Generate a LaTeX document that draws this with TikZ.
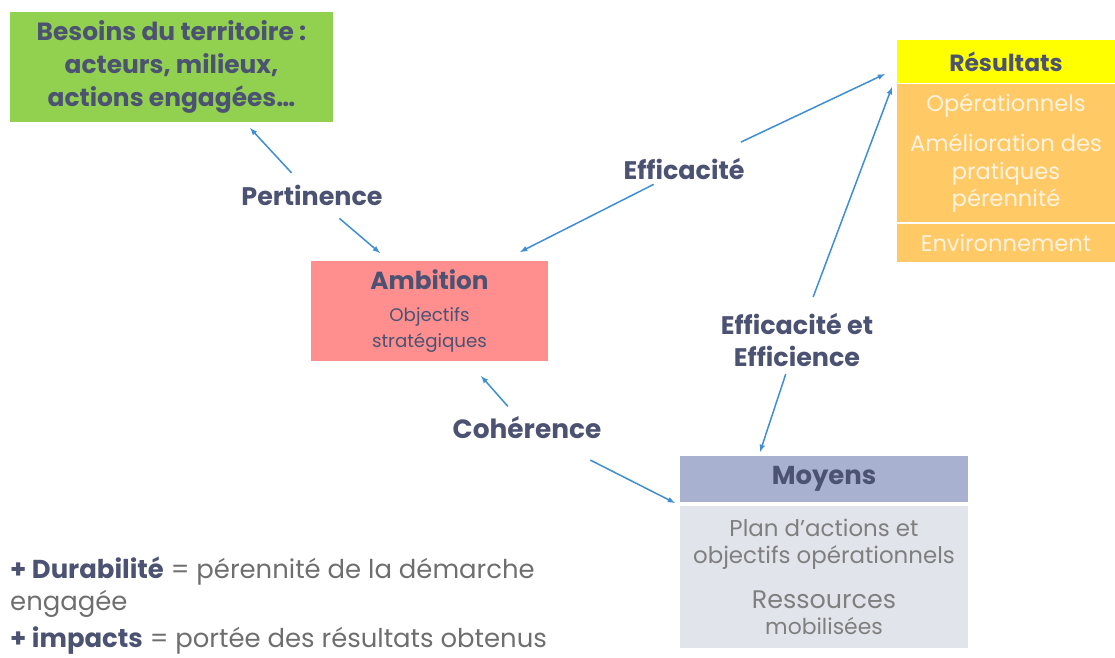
\documentclass[tikz,border=0pt]{standalone}
\usepackage{fontspec}
\setmainfont{Poppins}
\definecolor{ink}{HTML}{4B5272}
\definecolor{slate}{HTML}{6E6E6E}
\definecolor{arrowblue}{HTML}{3E8ED6}
\definecolor{grass}{HTML}{92D050}
\definecolor{lemon}{HTML}{FFFF00}
\definecolor{apricot}{HTML}{FFCA66}
\definecolor{cream}{HTML}{FFF3DF}
\definecolor{salmon}{HTML}{FF8E8E}
\definecolor{lavender}{HTML}{A9B1D1}
\definecolor{mist}{HTML}{E2E4EC}
\definecolor{stone}{HTML}{7F7F7F}
\tikzset{
  box/.style={rectangle,inner sep=0pt,align=center,text=ink},
  tag/.style={inner sep=2bp,align=center,text=ink,font=\bfseries\fontsize{25.5}{33}\selectfont},
  link/.style={->,draw=arrowblue,line width=1.5bp},
}
\begin{document}
\begin{tikzpicture}[>=latex,line join=bevel,]
        \useasboundingbox (0bp,0bp) rectangle (1115bp,658bp);
        %%
        \node (besoins) at (171.5bp,591.0bp) [box,fill=grass,minimum width=323bp,minimum height=110bp,font=\bfseries\fontsize{25}{33}\selectfont] {Besoins du territoire :\\acteurs, milieux,\\actions engagées…};
        \node (resH) at (1006.0bp,596.5bp) [box,fill=lemon,minimum width=218bp,minimum height=43bp,font=\bfseries\fontsize{23.5}{23}\selectfont] {Résultats};
        \node (resB) at (1006.0bp,505.0bp) [box,fill=apricot,minimum width=218bp,minimum height=138bp,text=cream,font=\fontsize{22.7}{27.5}\selectfont] {Opérationnels\\[13bp]Amélioration des\\pratiques\\pérennité};
        \node (resE) at (1006.0bp,415.0bp) [box,fill=apricot,minimum width=218bp,minimum height=38bp,text=cream,font=\fontsize{22.7}{23}\selectfont] {Environnement};
        \node (ambition) at (429.5bp,347.0bp) [box,fill=salmon,minimum width=237bp,minimum height=100bp,font=\fontsize{18.3}{26}\selectfont] {{\bfseries\fontsize{24.8}{23}\selectfont Ambition}\\[6bp]Objectifs\\stratégiques};
        \node (moyH) at (824.0bp,179.0bp) [box,fill=lavender,minimum width=288bp,minimum height=46bp,font=\bfseries\fontsize{26}{23}\selectfont] {Moyens};
        \node (moyB) at (824.0bp,81.0bp) [box,fill=mist,minimum width=288bp,minimum height=142bp,text=stone,font=\fontsize{23}{27}\selectfont] {Plan d’actions et\\objectifs opérationnels\\[18bp]{\fontsize{25.5}{27}\selectfont Ressources}\\{\fontsize{22}{30}\selectfont mobilisées}};
        \node (perti) at (312.0bp,463.0bp) [tag] {Pertinence};
        \node (effic) at (684.0bp,489.0bp) [tag] {Efficacité};
        \node (effi2) at (797.0bp,318.0bp) [tag] {Efficacité et\\Efficience};
        \node (coher) at (527.0bp,230.0bp) [tag,font=\bfseries\fontsize{26.5}{33}\selectfont] {Cohérence};
        \node (bilan) at (10.0bp,101.0bp) [anchor=north west,inner sep=0pt,align=left,text=slate,font=\fontsize{26}{32}\selectfont] {{\bfseries\color{ink}+ Durabilité} = pérennité de la démarche\\engagée\\[5bp]{\bfseries\color{ink}+ impacts} = portée des résultats obtenus};
        %
        \coordinate (tipBesoins) at (250.0bp,530.0bp);
        \coordinate (tipAmbA) at (380.0bp,405.0bp);
        \coordinate (tipAmbB) at (520.0bp,406.0bp);
        \coordinate (tipResA) at (885.0bp,584.0bp);
        \coordinate (tipResB) at (892.0bp,571.0bp);
        \coordinate (tipMoyA) at (760.0bp,206.0bp);
        \coordinate (tipAmbC) at (481.0bp,282.0bp);
        \coordinate (tipMoyB) at (675.0bp,155.0bp);
        \draw [link,shorten <=30bp] (perti.center) -- (tipBesoins);
        \draw [link,shorten <=36bp] (perti.center) -- (tipAmbA);
        \draw [link,shorten <=34bp] (effic.center) -- (tipAmbB);
        \draw [link,shorten <=63bp] (effic.center) -- (tipResA);
        \draw [link,shorten <=46bp] (effi2.center) -- (tipResB);
        \draw [link,shorten <=36bp] (effi2.center) -- (tipMoyA);
        \draw [link,shorten <=29bp] (coher.center) -- (tipAmbC);
        \draw [link,shorten <=71bp] (coher.center) -- (tipMoyB);
        %
\end{tikzpicture}
\end{document}
